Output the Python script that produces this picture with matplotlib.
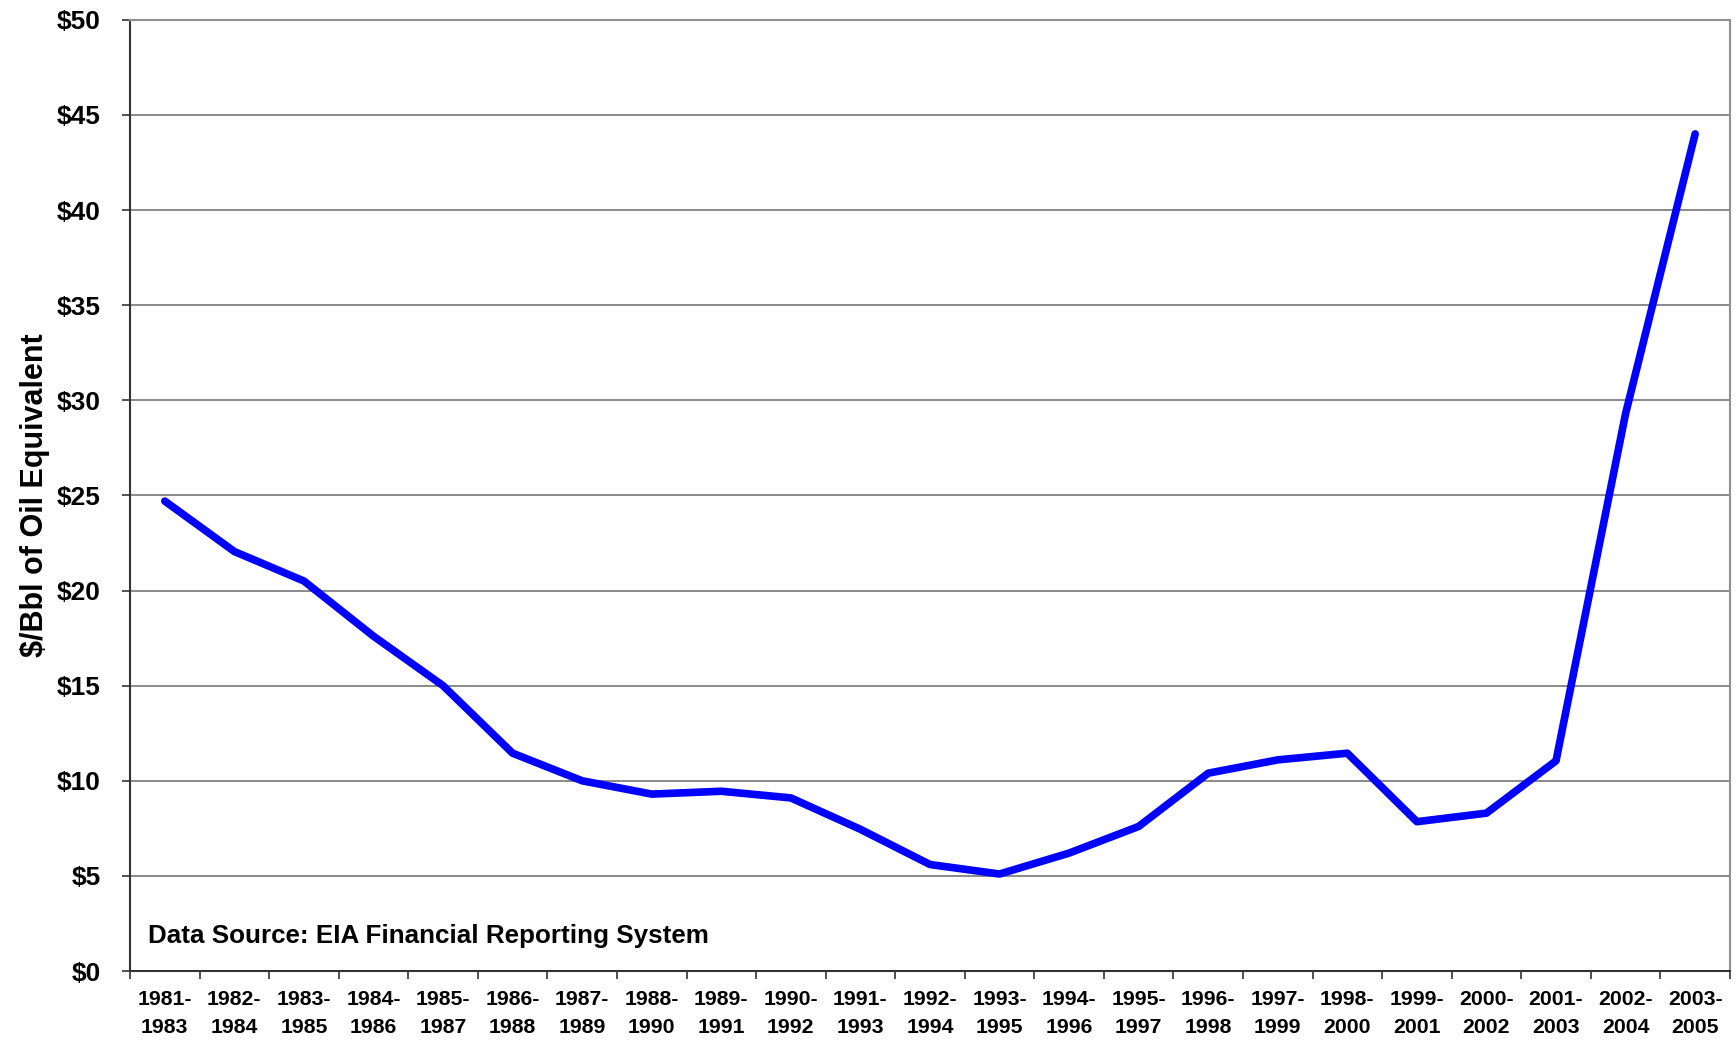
import matplotlib
matplotlib.use("Agg")
import matplotlib.pyplot as plt
from matplotlib.ticker import FixedLocator, NullFormatter

plt.rcParams['font.family'] = ['Liberation Sans', 'DejaVu Sans']

# 期间标签
periods = ["1981-\n1983", "1982-\n1984", "1983-\n1985", "1984-\n1986", "1985-\n1987",
           "1986-\n1988", "1987-\n1989", "1988-\n1990", "1989-\n1991", "1990-\n1992",
           "1991-\n1993", "1992-\n1994", "1993-\n1995", "1994-\n1996", "1995-\n1997",
           "1996-\n1998", "1997-\n1999", "1998-\n2000", "1999-\n2001", "2000-\n2002",
           "2001-\n2003", "2002-\n2004", "2003-\n2005"]
# $/Bbl 数值
cost = [24.7, 22.05, 20.5, 17.6, 15.0, 11.45, 10.0, 9.3, 9.45, 9.1,
        7.45, 5.6, 5.1, 6.2, 7.6, 10.4, 11.1, 11.45, 7.85, 8.3,
        11.05, 29.3, 44.0]
yticks = [0, 5, 10, 15, 20, 25, 30, 35, 40, 45, 50]

fig = plt.figure(figsize=(17.36, 10.4), dpi=100)
ax = fig.add_axes([0.0749, 0.0663, 0.9216, 0.9147])

x = list(range(len(periods)))
ax.plot(x, cost, color='#0000FF', lw=5.5, solid_capstyle='round', solid_joinstyle='round', zorder=3)

ax.set_xlim(-0.5, len(periods) - 0.5)
ax.set_ylim(0, 50)
ax.set_yticks(yticks)
ax.set_yticklabels([f"${v}" for v in yticks], fontsize=19, fontweight='bold')
ax.yaxis.grid(True, color='#808080', lw=1.3)
ax.set_axisbelow(True)

# x轴刻度在分类边界上，标签在中间
ax.xaxis.set_major_locator(FixedLocator([i - 0.5 for i in range(len(periods) + 1)]))
ax.xaxis.set_major_formatter(NullFormatter())
ax.set_xticks(x, minor=True)
ax.set_xticklabels(periods, minor=True, fontsize=15.3, fontweight='bold', linespacing=1.55)
ax.tick_params(axis='x', which='minor', length=0, pad=14)
ax.tick_params(axis='x', which='major', length=6, width=1.2, color='#333333')
ax.tick_params(axis='y', length=6, width=1.2, color='#333333', pad=15)

for s in ['top', 'right']:
    ax.spines[s].set_color('#909090')
    ax.spines[s].set_linewidth(1.5)
for s in ['left', 'bottom']:
    ax.spines[s].set_color('#333333')
    ax.spines[s].set_linewidth(1.5)

ax.set_ylabel("$/Bbl of Oil Equivalent", fontsize=22, fontweight='bold', labelpad=5)
ax.text(0.0115, 0.024, "Data Source: EIA Financial Reporting System", transform=ax.transAxes,
        fontsize=18.7, fontweight='bold', ha='left', va='bottom')

fig.savefig("out.png", dpi=100)
